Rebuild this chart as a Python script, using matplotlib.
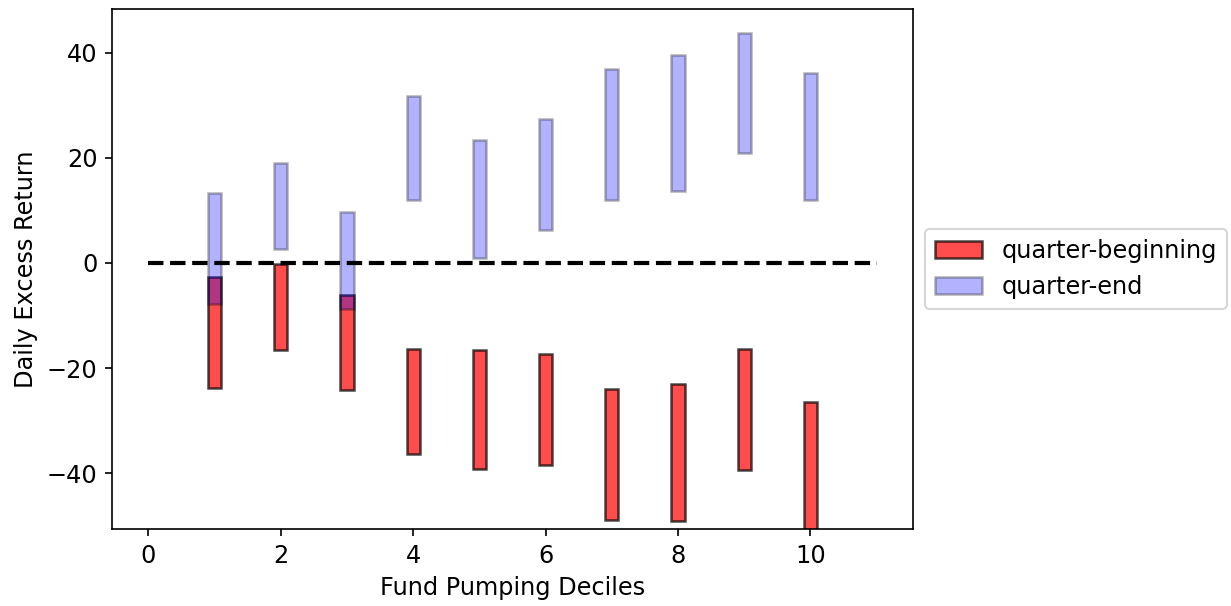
import numpy as np
import matplotlib.pyplot as plt

deciles = np.arange(1, 11)

# quarter-beginning returns: bar top / bar bottom per decile
qb_top = [-2.6, -0.2, -6.0, -16.4, -16.6, -17.3, -23.9, -23.0, -16.4, -26.5]
qb_bottom = [-23.7, -16.6, -24.2, -36.4, -39.2, -38.5, -48.8, -49.0, -39.3, -56.0]

# quarter-end returns: bar top / bar bottom per decile
qe_top = [13.3, 19.1, 9.6, 31.8, 23.4, 27.4, 36.8, 39.5, 43.8, 36.1]
qe_bottom = [-7.8, 2.7, -8.8, 11.9, 0.9, 6.3, 11.9, 13.6, 20.9, 11.9]

qb_top = np.array(qb_top)
qb_bottom = np.array(qb_bottom)
qe_top = np.array(qe_top)
qe_bottom = np.array(qe_bottom)

plt.rcParams['font.size'] = 11.5

fig = plt.figure(figsize=(1231 / 150, 606 / 150), dpi=150)
ax = fig.add_axes([112 / 1231, 1 - 529 / 606, (913 - 112) / 1231, (529 - 9) / 606])

ax.bar(deciles, qb_top - qb_bottom, bottom=qb_bottom, width=0.2,
       color='red', edgecolor='black', linewidth=1.2, alpha=0.7,
       label='quarter-beginning')
ax.bar(deciles, qe_top - qe_bottom, bottom=qe_bottom, width=0.2,
       color='blue', edgecolor='black', linewidth=1.2, alpha=0.3,
       label='quarter-end')

ax.hlines(0, 0, 11, colors='black', linestyles='dashed', linewidth=2)

ax.set_xlim(-0.55, 11.55)
ax.set_ylim(-50.6, 48.3)
ax.set_xlabel('Fund Pumping Deciles')
ax.set_ylabel('Daily Excess Return')
ax.legend(loc='center left', bbox_to_anchor=(1.0, 0.5))

fig.savefig('out.png', dpi=150)
